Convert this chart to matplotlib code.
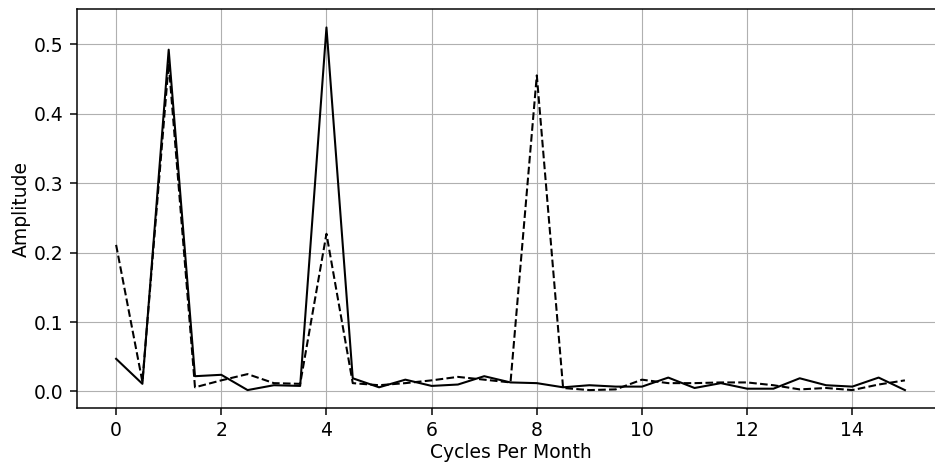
import numpy as np
import matplotlib
matplotlib.use("Agg")
import matplotlib.pyplot as plt

# frequency bins (cycles per month)
freq = np.arange(0, 15.5, 0.5)

# amplitude spectra of the two signals
amp_solid = [0.047, 0.011, 0.492, 0.022, 0.024, 0.002, 0.009, 0.008, 0.524, 0.019,
             0.006, 0.017, 0.008, 0.010, 0.022, 0.013, 0.012, 0.006, 0.009, 0.007,
             0.007, 0.020, 0.005, 0.012, 0.004, 0.004, 0.019, 0.009, 0.007, 0.020,
             0.002]
amp_dashed = [0.211, 0.014, 0.472, 0.006, 0.016, 0.025, 0.012, 0.011, 0.227, 0.012,
              0.009, 0.012, 0.016, 0.021, 0.017, 0.013, 0.455, 0.005, 0.002, 0.003,
              0.017, 0.012, 0.012, 0.013, 0.013, 0.009, 0.003, 0.005, 0.002, 0.010,
              0.016]

fig = plt.figure(figsize=(935 / 135, 466 / 135), dpi=135)
ax = fig.add_axes([0.082, 0.124, 0.928, 0.856])

ax.plot(freq, amp_solid, color="k", linewidth=1.1)
ax.plot(freq, amp_dashed, "k--", linewidth=1.1)

ax.set_xlabel("Cycles Per Month", labelpad=1.5)
ax.set_ylabel("Amplitude", labelpad=1.5)
ax.set_xticks([0, 2, 4, 6, 8, 10, 12, 14])
ax.set_yticks([0.0, 0.1, 0.2, 0.3, 0.4, 0.5])
ax.grid(True, linewidth=0.6)

fig.savefig("out.png", dpi=135)
